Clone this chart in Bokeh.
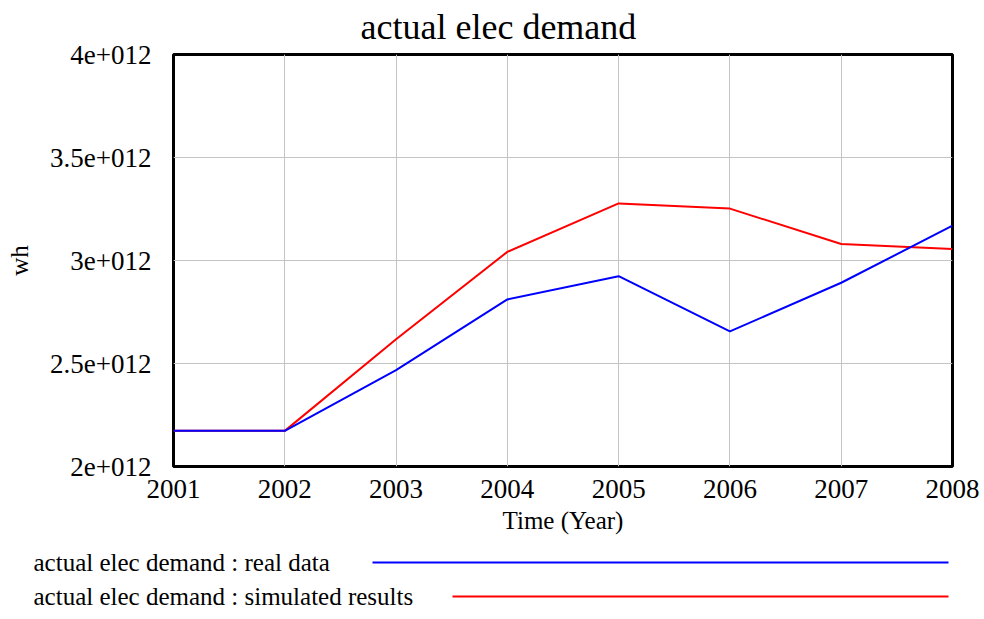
from bokeh.plotting import figure
from bokeh.models import FixedTicker, Range1d
from bokeh.core.properties import value
from bokeh.embed import file_html
from bokeh.resources import INLINE

# ---- data ----
years = [2001, 2002, 2003, 2004, 2005, 2006, 2007, 2008]
real_data = [2.173e12, 2.173e12, 2.468e12, 2.811e12, 2.924e12, 2.656e12, 2.892e12, 3.169e12]
simulated = [2.173e12, 2.173e12, 2.618e12, 3.042e12, 3.277e12, 3.252e12, 3.080e12, 3.056e12]
y_ticks = [2.0e12, 2.5e12, 3.0e12, 3.5e12, 4.0e12]
y_tick_labels = ["2e+012", "2.5e+012", "3e+012", "3.5e+012", "4e+012"]
series_names = ["actual elec demand : real data", "actual elec demand : simulated results"]
series_colors = ["#0000ff", "#ff0000"]

FONT = "Liberation Serif"

p = figure(width=984, height=546, output_backend="svg", toolbar_location=None,
           x_range=Range1d(2001, 2008), y_range=Range1d(2.0e12, 4.0e12),
           min_border_left=173, min_border_right=32, min_border_top=54, min_border_bottom=80)

p.title.text = "actual elec demand"
p.title.text_font = FONT
p.title.text_font_size = "36px"
p.title.text_font_style = "normal"
p.title.text_color = "black"
p.title.align = "left"
p.title.offset = 187
p.title.vertical_align = "top"
p.title.standoff = 12

p.outline_line_color = "black"
p.outline_line_width = 3
p.outline_line_alpha = 1.0

# simulated first so the real-data line sits on top where they coincide
p.line(years, simulated, line_color=series_colors[1], line_width=2)
p.line(years, real_data, line_color=series_colors[0], line_width=2)

p.xaxis.ticker = FixedTicker(ticks=years)
p.yaxis.ticker = FixedTicker(ticks=y_ticks)
p.yaxis.major_label_overrides = {t: l for t, l in zip(y_ticks, y_tick_labels)}
p.xaxis.axis_label = "Time (Year)"
p.yaxis.axis_label = "wh"

for ax in (p.xaxis[0], p.yaxis[0]):
    ax.axis_line_color = None
    ax.major_tick_line_color = None
    ax.minor_tick_line_color = None
    ax.major_tick_out = 0
    ax.major_tick_in = 0
    ax.major_label_text_font = FONT
    ax.major_label_text_font_size = "27px"
    ax.major_label_text_color = "black"
    ax.axis_label_text_font = FONT
    ax.axis_label_text_font_size = "25px"
    ax.axis_label_text_font_style = "normal"
    ax.axis_label_text_color = "black"

p.xaxis.major_label_standoff = 13
p.xaxis.axis_label_standoff = 6
p.yaxis.major_label_standoff = 22
p.yaxis.axis_label_standoff = 14

p.grid.grid_line_color = "#c4c4c4"
p.grid.grid_line_width = 1
p.xgrid.ticker = FixedTicker(ticks=years)
p.ygrid.ticker = FixedTicker(ticks=y_ticks)

# ---- legend strip (label on left, long line on right), a separate root ----
leg = figure(width=984, height=66, output_backend="svg", toolbar_location=None,
             x_range=Range1d(0, 984), y_range=Range1d(66, 0),
             min_border=0, min_border_left=0, min_border_right=0,
             min_border_top=0, min_border_bottom=0)
leg.axis.visible = False
leg.grid.visible = False
leg.outline_line_color = None

row_y = [16, 50]
line_start = [372, 452]
line_end = 948
leg.text(x=[33, 33], y=row_y, text=series_names, text_font=value(FONT),
         text_font_size="25px", text_baseline="middle", text_align="left", text_color="black")
for i in range(2):
    leg.line([line_start[i], line_end], [row_y[i], row_y[i]], line_color=series_colors[i], line_width=2)

open("out.html", "w").write(file_html([p, leg], INLINE))
